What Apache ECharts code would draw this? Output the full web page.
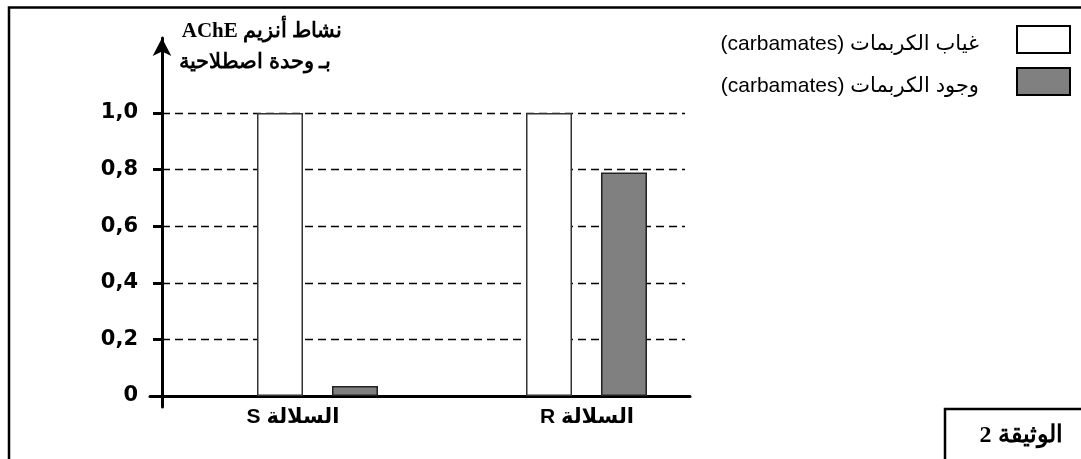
<!DOCTYPE html>
<html>
<head>
<meta charset="utf-8">
<script src="https://cdn.jsdelivr.net/npm/echarts@6/dist/echarts.min.js"></script>
<style>
  html, body { margin: 0; padding: 0; background: #fff; }
  #chart { width: 1081px; height: 459px; direction: rtl; }
</style>
</head>
<body>
<div id="chart"></div>
<script>
// strains (categories)
const categories = ['السلالة S', 'السلالة R']
// AChE activity, arbitrary units
const absenceValues = [1.0, 1.0]
const presenceValues = [0.035, 0.79]
const seriesNames = ['غياب الكربمات (carbamates)', 'وجود الكربمات (carbamates)']
const yTickLabels = ['0', '0,2', '0,4', '0,6', '0,8', '1,0']
const yTitle = ['نشاط أنزيم AChE', 'بـ وحدة اصطلاحية']
const docLabel = 'الوثيقة 2'

const chart = echarts.init(document.getElementById('chart'))

chart.setOption({
  animation: false,
  backgroundColor: '#fff',
  legend: {
    data: seriesNames,
    orient: 'vertical',
    align: 'right',
    right: 10,
    top: 25,
    padding: 0,
    itemWidth: 53,
    itemHeight: 27,
    itemGap: 12,
    icon: 'rect',
    itemStyle: { borderColor: '#000', borderWidth: 2 },
    formatter: name => '{t|' + name + '}',
    textStyle: {
      color: '#000',
      rich: {
        t: {
          fontSize: 21,
          fontFamily: '"Liberation Sans", "DejaVu Sans", sans-serif',
          color: '#000',
          padding: [10, 33, 0, 0]
        }
      }
    }
  },
  grid: [
    // axis lines (pixel-like units so the lines cross like the drawing)
    { left: 150, right: 391, top: 38, bottom: 52 },
    // y ticks, labels and dashed grid lines
    { left: 162, right: 396, top: 113, bottom: 63 },
    // bars
    { left: 183, right: 360, top: 113, bottom: 63 },
    // category labels
    { left: 146, right: 347, top: 113, bottom: 63 }
  ],
  xAxis: [
    {
      gridIndex: 0, type: 'value', min: -12, max: 528,
      axisLine: { show: true, lineStyle: { color: '#000', width: 3 } },
      axisTick: { show: false }, axisLabel: { show: false }, splitLine: { show: false }
    },
    { gridIndex: 1, type: 'value', show: false },
    { gridIndex: 2, type: 'category', data: categories, show: false },
    {
      gridIndex: 3, type: 'category', data: categories,
      axisLine: { show: false }, axisTick: { show: false }, splitLine: { show: false },
      axisLabel: { margin: 11, color: '#000', fontWeight: 'bold', fontSize: 21, fontFamily: '"Liberation Sans", "DejaVu Sans", sans-serif' }
    }
  ],
  yAxis: [
    {
      gridIndex: 0, type: 'value', min: -11, max: 358,
      axisLine: { show: true, symbol: ['none', 'arrow'], symbolSize: [14, 18], lineStyle: { color: '#000', width: 3 } },
      axisTick: { show: false }, axisLabel: { show: false }, splitLine: { show: false }
    },
    {
      gridIndex: 1, type: 'value', min: 0, max: 1, interval: 0.2,
      axisLine: { show: false },
      axisTick: { show: true, length: 9, lineStyle: { color: '#000', width: 3 } },
      axisLabel: {
        margin: 24, color: '#000', fontWeight: 'bold', fontSize: 21,
        fontFamily: '"DejaVu Sans", sans-serif',
        formatter: v => yTickLabels[Math.round(v / 0.2)]
      },
      splitLine: { show: true, lineStyle: { color: '#000', width: 1.3, type: [8, 5] } }
    },
    { gridIndex: 2, type: 'value', min: 0, max: 1, show: false },
    { gridIndex: 3, type: 'value', min: 0, max: 1, show: false }
  ],
  series: [
    {
      name: seriesNames[0],
      type: 'bar',
      xAxisIndex: 2,
      yAxisIndex: 2,
      data: absenceValues,
      barWidth: 46,
      barGap: '63%',
      itemStyle: { color: '#fff', borderColor: '#333', borderWidth: 1.5 }
    },
    {
      name: seriesNames[1],
      type: 'bar',
      xAxisIndex: 2,
      yAxisIndex: 2,
      data: presenceValues,
      barWidth: 46,
      barGap: '63%',
      itemStyle: { color: '#808080', borderColor: '#222', borderWidth: 1.5 }
    }
  ],
  graphic: [
    {
      type: 'rect', silent: true,
      shape: { x: 9, y: 7.5, width: 1100, height: 500 },
      style: { fill: 'none', stroke: '#000', lineWidth: 2.5 }
    },
    {
      type: 'rect', silent: true,
      shape: { x: 945, y: 409, width: 160, height: 80 },
      style: { fill: 'none', stroke: '#000', lineWidth: 2.5 }
    },
    {
      type: 'text', x: 1021, y: 436,
      style: { text: docLabel, font: 'bold 24px "Liberation Serif", "DejaVu Serif", serif', fill: '#000', align: 'center', verticalAlign: 'middle' }
    },
    {
      type: 'text', x: 262, y: 32,
      style: { text: yTitle[0], font: 'bold 21px "Liberation Serif", "DejaVu Serif", serif', fill: '#000', align: 'center', verticalAlign: 'middle' }
    },
    {
      type: 'text', x: 255, y: 63,
      style: { text: yTitle[1], font: 'bold 21px "Liberation Serif", "DejaVu Serif", serif', fill: '#000', align: 'center', verticalAlign: 'middle' }
    }
  ]
})
</script>
</body>
</html>
